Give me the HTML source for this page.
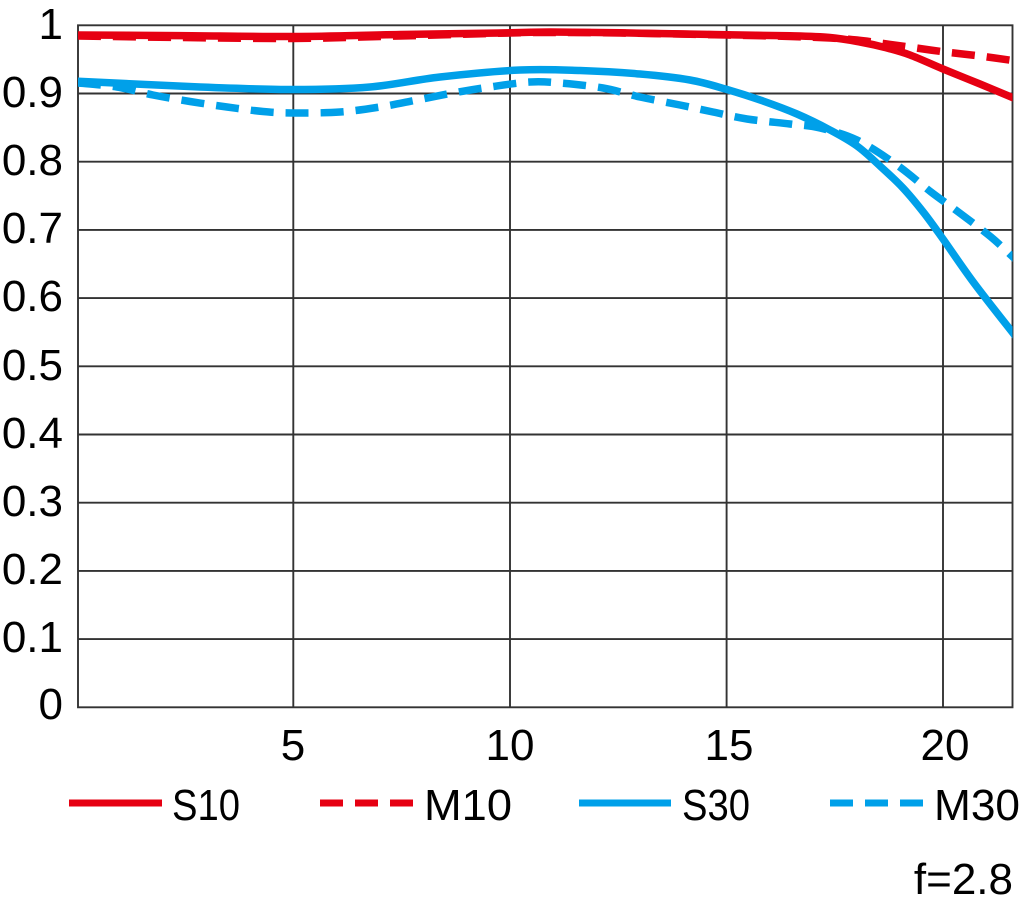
<!DOCTYPE html>
<html>
<head>
<meta charset="utf-8">
<style>
html,body{margin:0;padding:0;background:#fff;}
svg{display:block;}
text{font-family:"Liberation Sans",Arial,sans-serif;fill:#000;}
</style>
</head>
<body>
<svg id="chart" width="1024" height="907" viewBox="0 0 1024 907" xmlns="http://www.w3.org/2000/svg">
<defs>
<clipPath id="plot"><rect x="78" y="20" width="934.5" height="690"/></clipPath>
</defs>
<!-- grid -->
<g stroke="#333" stroke-width="1.9" fill="none">
<line x1="78" y1="639.1" x2="1012.5" y2="639.1"/>
<line x1="78" y1="570.9" x2="1012.5" y2="570.9"/>
<line x1="78" y1="502.7" x2="1012.5" y2="502.7"/>
<line x1="78" y1="434.5" x2="1012.5" y2="434.5"/>
<line x1="78" y1="366.3" x2="1012.5" y2="366.3"/>
<line x1="78" y1="298.1" x2="1012.5" y2="298.1"/>
<line x1="78" y1="229.9" x2="1012.5" y2="229.9"/>
<line x1="78" y1="161.7" x2="1012.5" y2="161.7"/>
<line x1="78" y1="93.5" x2="1012.5" y2="93.5"/>
<line x1="293.3" y1="25.3" x2="293.3" y2="707.3"/>
<line x1="510" y1="25.3" x2="510" y2="707.3"/>
<line x1="726.6" y1="25.3" x2="726.6" y2="707.3"/>
<line x1="943" y1="25.3" x2="943" y2="707.3"/>
<rect x="78" y="25.3" width="934.5" height="682"/>
</g>
<!-- curves -->
<g clip-path="url(#plot)" fill="none" stroke-width="7.5" stroke-linejoin="round">
<polyline class="sm" stroke="#e60012" points="74,35 180,35.6 293,36.5 400,34.5 510,32.8 550,32 620,32.8 727,34.8 790,35.8 830,37.5 860,42 885,47.5 910,55 943,69 980,84 1016,99"/>
<polyline class="sm" stroke="#e60012" stroke-dasharray="23 12" points="78,36 180,37.5 293,38.5 400,36 510,33 550,32.5 620,33 727,35 790,36.5 830,38 857,40 880,43 907,46.7 943,51.7 980,56 1016,61"/>
<polyline class="sm" stroke="#00a0e9" points="74,81 200,87 293,89.5 370,87 440,77 520,70 580,70.5 640,74 690,80 727,89.5 763,101 797,114 830,130 857,146 880,166 903,188 924,213 943,239 974,283 1016,337"/>
<polyline class="sm" stroke="#00a0e9" stroke-dasharray="23 12" points="78,83 117,87 153,95 190,101.5 227,107 263,111.5 293,113 340,112 380,107 417,100 453,93 490,87 530,82 560,83 603,88 640,97 680,105 713,112 747,119 790,124 820,128 857,140 897,165 931,192 957,211 991,237 1016,260"/>
</g>
<!-- y labels -->
<g font-size="44" text-anchor="end">
<text x="63" y="39">1</text>
<text x="63" y="107">0.9</text>
<text x="63" y="175">0.8</text>
<text x="63" y="243">0.7</text>
<text x="63" y="311">0.6</text>
<text x="63" y="380">0.5</text>
<text x="63" y="448">0.4</text>
<text x="63" y="516">0.3</text>
<text x="63" y="584">0.2</text>
<text x="63" y="652">0.1</text>
<text x="63" y="719">0</text>
</g>
<!-- x labels -->
<g font-size="44" text-anchor="middle">
<text x="293" y="760">5</text>
<text x="510" y="760">10</text>
<text x="729" y="760">15</text>
<text x="945" y="760">20</text>
</g>
<!-- legend -->
<g stroke-width="7" fill="none">
<line x1="69" y1="803" x2="162" y2="803" stroke="#e60012"/>
<line x1="320" y1="803" x2="413" y2="803" stroke="#e60012" stroke-dasharray="23 12"/>
<line x1="579" y1="803" x2="671" y2="803" stroke="#00a0e9"/>
<line x1="830" y1="803" x2="923" y2="803" stroke="#00a0e9" stroke-dasharray="23 12"/>
</g>
<g font-size="44">
<text x="172" y="820" textLength="68" lengthAdjust="spacingAndGlyphs">S10</text>
<text x="424" y="820" textLength="88" lengthAdjust="spacingAndGlyphs">M10</text>
<text x="682" y="820" textLength="68" lengthAdjust="spacingAndGlyphs">S30</text>
<text x="934" y="820" textLength="86" lengthAdjust="spacingAndGlyphs">M30</text>
<text x="1013" y="894" text-anchor="end">f=2.8</text>
</g>
</svg>
<script>
(function(){
  var ns="http://www.w3.org/2000/svg";
  var pls=document.querySelectorAll("polyline.sm");
  for(var i=0;i<pls.length;i++){
    var pl=pls[i];
    var raw=pl.getAttribute("points").trim().split(/\s+/);
    var p=raw.map(function(s){var a=s.split(",");return [parseFloat(a[0]),parseFloat(a[1])];});
    var d="M"+p[0][0]+","+p[0][1];
    for(var j=0;j<p.length-1;j++){
      var p0=p[j-1]||p[j],p1=p[j],p2=p[j+1],p3=p[j+2]||p[j+1];
      var c1x=p1[0]+(p2[0]-p0[0])/6,c1y=p1[1]+(p2[1]-p0[1])/6;
      var c2x=p2[0]-(p3[0]-p1[0])/6,c2y=p2[1]-(p3[1]-p1[1])/6;
      d+=" C"+c1x.toFixed(2)+","+c1y.toFixed(2)+" "+c2x.toFixed(2)+","+c2y.toFixed(2)+" "+p2[0]+","+p2[1];
    }
    var path=document.createElementNS(ns,"path");
    path.setAttribute("d",d);
    ["stroke","stroke-dasharray"].forEach(function(a){var v=pl.getAttribute(a);if(v)path.setAttribute(a,v);});
    pl.parentNode.replaceChild(path,pl);
  }
})();
</script>
</body>
</html>
